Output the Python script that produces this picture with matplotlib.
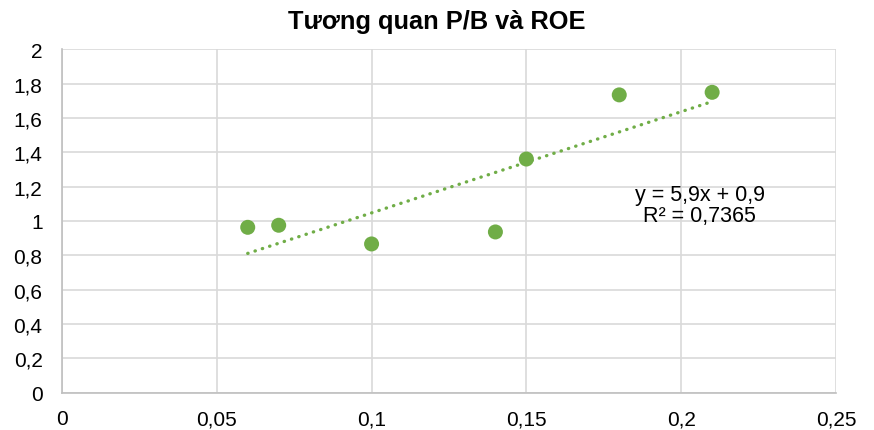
import matplotlib
matplotlib.use("Agg")
import matplotlib.pyplot as plt
from matplotlib.ticker import FuncFormatter, MultipleLocator
import numpy as np

plt.rcParams["font.family"] = ["Liberation Sans", "DejaVu Sans"]

# data
roe = [0.06, 0.07, 0.10, 0.14, 0.15, 0.18, 0.21]
pb = [0.963, 0.975, 0.866, 0.936, 1.361, 1.735, 1.750]
trend_slope = 5.9
trend_intercept = 0.457
trend_label = "y = 5,9x + 0,9\nR² = 0,7365"

GREEN = "#70AD47"
GRID = "#D9D9D9"


def comma(v, _):
    return f"{v:g}".replace(".", ",")


fig = plt.figure(figsize=(8.74, 4.31), dpi=100)
ax = fig.add_axes([0.0709, 0.087, 0.8856, 0.796])

tx = np.array([min(roe), max(roe)])
ax.plot(tx, trend_slope * tx + trend_intercept, color=GREEN, lw=2.4,
        linestyle=(0, (0.1, 2.2)), dash_capstyle="round", zorder=2)
ax.scatter(roe, pb, s=10.8 ** 2, color=GREEN, edgecolors="none", zorder=3)

ax.set_xlim(0, 0.25)
ax.set_ylim(0, 2)
ax.xaxis.set_major_locator(MultipleLocator(0.05))
ax.yaxis.set_major_locator(MultipleLocator(0.2))
ax.xaxis.set_major_formatter(FuncFormatter(comma))
ax.yaxis.set_major_formatter(FuncFormatter(comma))
ax.grid(True, color=GRID, lw=1.2, zorder=0)
ax.set_axisbelow(True)
for s in ["top", "right"]:
    ax.spines[s].set_visible(False)
for s in ["left", "bottom"]:
    ax.spines[s].set_color("#BFBFBF")
    ax.spines[s].set_linewidth(1.2)
ax.tick_params(axis="both", length=0, labelsize=15, colors="black")
ax.tick_params(axis="y", pad=14)
ax.tick_params(axis="x", pad=12)

ax.text(0.206, 1.093, trend_label, ha="center", va="center", fontsize=15.5,
        linespacing=1.05)

fig.text(0.5, 0.948, "Tương quan P/B và ROE", ha="center", va="center",
         fontsize=18.3, fontweight="bold")

fig.savefig("out.png", dpi=100)
